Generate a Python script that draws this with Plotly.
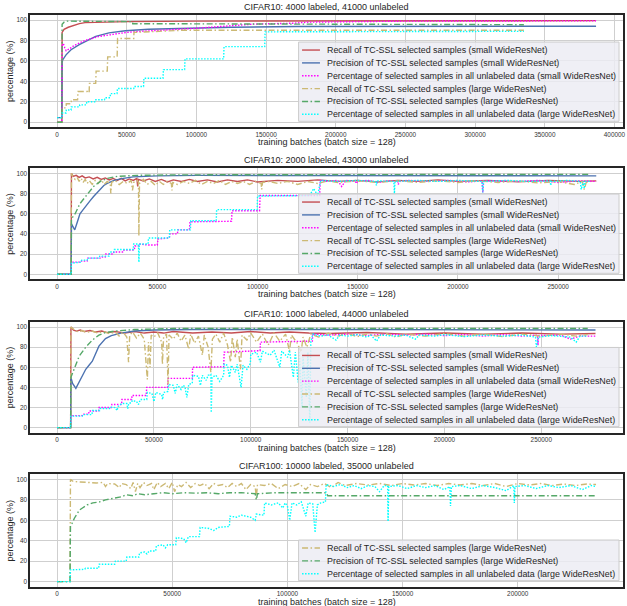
import plotly.graph_objects as go

W, H = 627, 606

TITLES = [
    "CIFAR10: 4000 labeled, 41000 unlabeled",
    "CIFAR10: 2000 labeled, 43000 unlabeled",
    "CIFAR10: 1000 labeled, 44000 unlabeled",
    "CIFAR100: 10000 labeled, 35000 unlabeled",
]
X_LABEL = "training batches (batch size = 128)"
Y_LABEL = "percentage (%)"
LEGEND_LABELS = [
    "Recall of TC-SSL selected samples (small WideResNet)",
    "Precision of TC-SSL selected samples (small WideResNet)",
    "Percentage of selected samples in all unlabeled data (small WideResNet)",
    "Recall of TC-SSL selected samples (large WideResNet)",
    "Precision of TC-SSL selected samples (large WideResNet)",
    "Percentage of selected samples in all unlabeled data (large WideResNet)",
]
X_TICKS = [
    [0, 50000, 100000, 150000, 200000, 250000, 300000, 350000, 400000],
    [0, 50000, 100000, 150000, 200000, 250000],
    [0, 50000, 100000, 150000, 200000, 250000],
    [0, 50000, 100000, 150000, 200000],
]
Y_TICKS = [0, 20, 40, 60, 80, 100]

# ---------------- Panel 1: CIFAR10 4000 labeled ----------------
P1_REC_S = [[0,0],[3400,0],[3600,88],[5000,91],[8000,93],[12000,95],[16000,96.5],[20000,97.5],[30000,98],[50000,98.5],[100000,99],[200000,99.3],[386800,99.5]]
P1_PRE_S = [[0,4.5],[3400,4.5],[3600,58],[4000,61],[6400,66],[10000,71],[15900,76],[20600,79],[27700,84],[37200,87.5],[49000,89.5],[65600,91],[89000,92],[125000,93],[172000,93.8],[250000,94],[386800,94]]
P1_PCT_S = [[0,0],[3400,0],[3600,75],[4500,77],[5500,73],[6500,70],[9000,72],[12000,75],[15000,77],[20000,80],[25000,82],[30000,84],[40000,86],[50000,88],[60000,89],[75000,90],[100000,92],[120000,94],[140000,96],[170000,97],[180000,98],[250000,99],[386800,99.3]]
P1_REC_L = [[0,0],[3400,0],[3600,14],[6400,14],[6600,18],[10000,18],[10300,22],[14700,22],[15000,30],[21800,30],[22000,29],[23000,29],[23200,38],[27700,38],[28000,50],[36000,50],[36300,64],[43100,64],[43400,82],[55000,82],[55200,88],[70000,89],[90000,90],[335000,90]]
P1_PRE_L = [[0,0],[3400,0],[3600,96],[5000,98],[7000,99],[20000,98.8],[54000,98.5],[54300,96.5],[100000,96.5],[200000,96],[335000,95.5]]
P1_PCT_L = [[0,4.5],[3400,4.5],[3600,9],[6400,9],[6600,12],[10000,12],[10200,15],[16000,15],[16300,17],[21000,17],[21300,20],[27000,20],[27300,22],[34000,22],[34300,24],[38000,24],[38300,28],[43000,28],[43300,33],[55000,33],[55300,35],[62000,35],[62300,43],[76000,43],[76300,51.5],[91500,51.5],[91800,62],[119500,62],[119800,74],[149000,74],[149300,88.5],[335000,89]]

# ---------------- Panel 2: CIFAR10 2000 labeled ----------------
P2_REC_S = [[0,0],[7000,0],[7150,100],[8000,97],[9500,98],[11000,96],[12500,97.5],[14000,95.5],[16000,96.5],[18000,94.5],[20000,96],[22000,94],[24000,95.5],[26000,93.5],[28000,95],[30000,93],[32000,95],[34000,92.5],[36000,94.5],[38000,93],[39800,95],[40200,87],[40600,94],[43000,92.5],[46000,94.5],[49000,92],[52000,94],[55000,91.5],[58000,93.5],[62000,92],[66000,94],[70000,92],[75000,93.5],[80000,91.5],[85000,93.5],[90000,92],[95000,93.5],[100000,91.5],[110000,93],[120000,92],[130000,93.5],[140000,92],[150000,93],[160000,91.5],[170000,93],[180000,92],[190000,93.5],[200000,92],[215000,93],[230000,91.5],[245000,93],[260000,92],[269000,92.5]]
P2_PRE_S = [[0,0],[7000,0],[7150,50],[8000,46],[8800,44],[9800,50],[11400,60],[13000,64],[14800,69],[16500,73],[18200,77],[20000,81],[21600,85],[23300,88],[25000,90],[28400,93],[33000,95],[38000,96.5],[50000,97.5],[70000,98],[269000,97.5]]
P2_PCT_S = [[0,0],[7000,0],[7150,12],[11000,12],[11300,13],[15000,13],[15300,16],[22000,16],[22300,17],[24000,17],[24300,20],[28000,20],[28300,22],[33000,22],[33300,24],[38500,24],[38800,28],[40500,28],[40800,30],[45000,29],[50000,29],[50300,35],[56000,36],[56300,40],[60000,40],[60300,44],[66000,44],[66300,52],[87000,52.5],[87300,63],[101000,63],[101300,78],[131000,78],[131300,93],[135000,92],[140000,93],[142000,87],[144000,93],[148800,92],[149200,90],[150000,92],[155000,93],[160000,91],[165000,92.5],[170000,92],[170200,89],[171000,92],[175000,93],[185000,92],[195000,93],[205000,91.5],[212000,92.5],[212400,81],[212800,92.5],[230000,92],[240000,93],[250000,91],[260000,92.5],[269000,92]]
P2_REC_L = [[0,0],[7000,0],[7150,100],[8000,96],[9000,94],[10000,96],[11000,92],[12000,95],[13000,91],[14000,94],[15000,90],[16000,93],[17500,89],[19000,93],[20500,90],[22000,94],[23500,89],[25000,92],[26500,90],[26800,80],[27200,91],[29000,93],[31000,89],[33000,92],[35000,90],[37000,93],[37600,83],[38200,91],[40000,93],[40600,91],[40800,38],[41100,90],[43000,94],[45000,89],[47000,92],[49000,88],[51000,92],[53000,89],[55000,92],[57000,90],[57300,83],[57700,91],[60000,89],[63000,92],[66000,90],[69000,93],[72000,89],[75000,92],[78000,90],[81000,93],[84000,89],[87000,92],[90000,90],[93000,92],[96000,89],[99000,92],[101800,90],[102100,84],[102500,91],[106000,92],[110000,90],[115000,92],[120000,89],[125000,92],[130000,90],[135000,92.5],[140000,91],[150000,92.5],[160000,91],[170000,92.5],[180000,91],[190000,92.5],[200000,91],[210000,92.5],[220000,91],[230000,92.5],[240000,90.5],[250000,92],[258000,89],[262000,92],[263000,84],[264000,91],[266000,92]]
P2_PRE_L = [[0,0],[7000,0],[7150,55],[9000,60],[11400,70],[14800,79],[18200,87],[21600,92],[25000,95],[30000,97],[40000,98],[60000,98.5],[266000,99]]
P2_PCT_L = [[0,0],[7000,0],[7150,11],[12000,12],[12300,14],[15000,14],[15300,16],[21000,16],[21300,18],[26000,18],[26300,22],[28400,22],[28600,24.5],[38000,24.5],[38200,30],[40600,30],[40800,12],[41000,30],[45400,30],[45600,36],[56000,36],[56200,44],[66500,44],[66700,53],[79400,53],[79600,64],[99800,64],[100000,77.5],[126000,78],[128000,85],[130000,78],[131500,93],[140000,92],[150000,93],[159000,92],[159300,88],[159600,92.5],[168000,92],[168300,80],[168600,92],[180000,93],[190000,92],[200000,93],[212000,92],[212400,81],[212800,92],[225000,93],[235000,92],[246000,92.5],[246300,88],[246600,92],[255000,93],[261000,92],[261500,84],[262500,92],[263000,85],[263500,92],[266000,92]]

# ---------------- Panel 3: CIFAR10 1000 labeled ----------------
P3_REC_S = [[0,0],[7000,0],[7150,100],[8500,97],[10000,96],[12000,97],[14000,95.5],[17000,96.5],[20000,95],[23000,96],[26000,94.5],[30000,95.5],[35000,94],[40000,95.5],[45000,94],[50000,95],[55000,94],[60000,95.5],[70000,94],[80000,95],[90000,94],[100000,95.5],[110000,94],[120000,95],[130000,94],[140000,93.5],[160000,94.5],[180000,93],[200000,94],[220000,93],[240000,94],[260000,93],[278000,93.5]]
P3_PRE_S = [[0,0],[7000,0],[7150,50],[8000,44],[9700,39],[11000,44],[12500,49],[14800,58],[16500,62],[18200,66],[20000,74],[21600,81],[25000,88.5],[28000,91.5],[33000,94],[40000,96],[50000,97],[70000,97.5],[150000,97.5],[278000,97]]
P3_PCT_S = [[0,0],[7000,0],[7150,12],[13000,12],[13300,13.5],[16300,13.5],[16500,16.5],[21500,16.5],[21700,20],[28000,20],[28300,23],[33300,23],[33500,28],[38500,28],[38700,32],[46000,32],[46300,40],[57000,40],[57300,49],[69800,49],[70000,60],[86000,60.5],[86300,75],[99800,76],[104800,76.5],[105000,85],[131800,86],[132000,93],[140000,92],[150000,93],[160000,91.5],[170000,93],[180000,92],[190000,93],[200000,91.5],[210000,92.5],[220000,91],[230000,92.5],[240000,91],[248000,92],[248300,82],[248600,91.5],[260000,92],[265000,88],[270000,91],[278000,91]]
P3_REC_L = [[0,0],[7000,0],[7150,100],[9000,97],[11000,95],[13000,96.5],[15000,94.5],[18000,96],[21000,94],[24000,95.5],[27000,93.5],[30000,95],[32000,91],[34000,95],[36000,90],[36900,65],[37500,92],[39000,95],[41000,89],[43000,94],[45000,88],[46600,48],[47200,85],[48000,60],[48600,92],[50000,90],[52000,94],[54000,85],[54400,63],[55000,90],[56500,93],[57300,43],[57800,92],[60000,88],[62000,94],[64000,86],[66000,92],[68000,78],[69000,93],[71000,84],[73000,91],[75000,72],[76000,92],[78000,80],[79400,55],[80200,88],[82000,93],[84000,85],[86000,94],[88000,82],[89600,65],[90500,90],[92000,70],[93000,88],[94700,58],[95500,92],[98000,87],[100000,94],[103000,85],[106000,93],[109000,82],[112000,94],[115000,86],[118000,93],[120000,76],[121000,92],[124000,84],[126000,75],[127000,90],[129000,80],[131000,93],[135000,90],[140000,94],[145000,91],[150000,93.5],[155000,90.5],[160000,93],[165000,91],[170000,93.5],[175000,90],[180000,93],[190000,91],[200000,93.5],[210000,91],[220000,93],[230000,90.5],[240000,93],[250000,91],[260000,93],[268000,91],[274000,92.5]]
P3_PRE_L = [[0,0],[7000,0],[7150,50],[9000,60],[11400,71],[14800,80],[18200,87],[21600,92],[25000,94.5],[30000,96],[40000,97.5],[60000,98.5],[274000,98.5]]
P3_PCT_L = [[0,0],[7000,0],[7150,11.5],[13000,11.5],[13300,13],[18000,13],[18300,17],[22000,17],[22300,19],[27000,19],[27300,20.5],[30000,20],[31000,17],[31500,21],[33500,24],[36000,24],[36500,19],[37000,24],[38500,25],[38800,27],[41000,26],[42000,23],[43000,28],[46300,28],[46600,35],[49000,34],[50000,26],[51000,35],[54000,33],[54500,28],[55000,35],[57300,36],[57600,43],[60000,42],[61000,34],[62000,43],[64000,38],[65000,42],[66000,41],[67000,30],[68000,43],[69800,44],[70000,52],[73000,51],[74000,42],[75000,52],[77000,47],[78000,52],[79400,53],[79600,15],[80000,50],[82000,52],[84000,46],[86000,52],[86300,63],[88000,62],[89000,50],[90000,62],[92000,55],[93000,63],[95000,40],[96000,62],[98000,58],[99800,64],[100000,73],[103000,75],[105000,65],[106000,76],[110000,72],[112000,77],[115000,60],[116000,76],[119000,70],[120000,77],[122000,50],[123000,75],[124500,45],[125000,76],[126500,20],[127000,70],[128700,30],[129500,75],[130500,5],[131000,85],[132000,93],[136000,91],[140000,92],[144000,87],[146000,92],[150000,91],[155000,92.5],[160000,90],[162000,92],[165000,86],[167000,92],[175000,91],[180000,92],[185000,88],[187000,92],[195000,91],[200000,92.5],[210000,90.5],[220000,92],[230000,91],[240000,92],[247000,90],[247500,80],[248500,90],[255000,91.5],[265000,90],[268000,85],[270000,91],[274000,91]]

# ---------------- Panel 4: CIFAR100 10000 labeled ----------------
P4_REC_L = [[0,0],[5600,0],[5800,100],[7000,98],[10000,97.5],[14000,97],[17000,96.5],[20000,97],[21000,93],[22000,96],[25000,95.5],[27000,92],[28000,96],[30000,95],[32000,91],[33000,97],[34000,88],[35000,96],[36000,92],[37500,97],[39000,94],[41000,96],[42000,90],[43500,97],[45000,93],[47000,96],[48500,91],[50000,97],[51000,88],[52500,95],[54000,93],[56000,97],[58000,92],[60000,96],[62000,94],[64000,96],[66000,91],[68000,96],[70000,94],[72000,95],[74000,92],[76000,96],[78000,93],[80000,96],[82000,90],[84000,95],[86000,93],[86500,82],[87000,95],[90000,94],[93000,96],[96000,91],[99000,95],[102000,93],[105000,96],[108000,90],[110000,95],[113000,93],[116000,96],[119000,92],[122000,97],[125000,94],[130000,96],[135000,94.5],[140000,96],[145000,94],[150000,96],[155000,94.5],[160000,96],[165000,94],[170000,96],[175000,94.5],[180000,96],[185000,94],[190000,96],[195000,93],[200000,96],[205000,94.5],[210000,96],[215000,94],[220000,95.5],[225000,94],[230000,95.5],[234000,95]]
P4_PRE_L = [[0,0],[5600,0],[5800,55],[6500,57],[7500,62],[8500,66],[9700,70],[11000,72],[13000,75],[15500,77],[18400,78],[21000,80],[23000,81],[25000,82],[28000,83],[30000,85],[33000,84],[35000,86],[38000,85],[42000,86],[46000,87],[50000,86],[55000,87],[60000,86.5],[65000,87],[70000,86],[75000,87],[80000,87],[86000,86],[86500,80],[87000,86],[95000,87],[105000,87],[112000,86.5],[117000,87],[117500,84],[130000,84],[150000,84],[170000,84],[200000,84],[234000,84]]
P4_PCT_L = [[0,0],[5600,0],[5800,11.5],[12000,12],[12300,13],[18000,13],[18300,17],[25000,17],[25300,20],[30000,20],[30300,24],[35500,24],[35800,28],[38000,29],[39000,27],[40000,30],[42800,30],[43100,35],[46000,36],[47000,33],[48000,36],[51500,36],[51800,43],[55000,42],[56000,38],[57000,44],[61800,44],[62100,53],[66000,52],[68000,50],[70000,53],[74800,54],[75100,64],[78000,63],[80000,65],[84000,63],[86000,60],[86500,66],[89800,65],[90100,77],[93000,75],[96000,77],[98000,72],[99000,77],[100000,74],[101000,60],[102000,77],[104000,75],[106000,78],[108000,64],[109000,77],[111000,76],[112000,48],[113000,75],[114500,77],[116500,78],[116800,95],[120000,93],[123000,95],[126000,92],[129000,94],[132000,91],[135000,94],[138000,93],[140000,88],[142000,94],[143500,94],[143700,59],[144000,93],[148000,94],[152000,91],[156000,94],[160000,92],[164000,94],[168000,90],[170500,93],[170800,74],[171200,93],[175000,94],[180000,91],[185000,94],[190000,92],[195000,89],[198300,94],[198500,77],[198800,93],[203000,94],[208000,91],[213000,94],[218000,92],[223000,94],[228000,90],[232000,94],[234000,93]]

# ---------------- styling ----------------
STYLES = [
    dict(color="#C44E52", dash="solid"),
    dict(color="#4C72B0", dash="solid"),
    dict(color="#FF00FF", dash="1.5px,1.5px"),
    dict(color="#CCB974", dash="6px,2.5px,1.5px,2.5px"),
    dict(color="#55A868", dash="6px,2.5px,1.5px,2.5px"),
    dict(color="#00FFFF", dash="1.5px,1.5px"),
]

PANELS = [
    dict(series=[P1_REC_S, P1_PRE_S, P1_PCT_S, P1_REC_L, P1_PRE_L, P1_PCT_L], idx=[0,1,2,3,4,5],
         xr=[-19340, 406140], top=15, bottom=127.3),
    dict(series=[P2_REC_S, P2_PRE_S, P2_PCT_S, P2_REC_L, P2_PRE_L, P2_PCT_L], idx=[0,1,2,3,4,5],
         xr=[-13450, 282350], top=168.3, bottom=279.3),
    dict(series=[P3_REC_S, P3_PRE_S, P3_PCT_S, P3_REC_L, P3_PRE_L, P3_PCT_L], idx=[0,1,2,3,4,5],
         xr=[-13900, 292200], top=322, bottom=432.7),
    dict(series=[P4_REC_L, P4_PRE_L, P4_PCT_L], idx=[3,4,5],
         xr=[-11700, 245700], top=474.3, bottom=586.7),
]
LEFT, RIGHT = 30.3, 626.0

def fx(px):
    return px / W

def fy(py):
    return 1 - py / H

FONT = "Liberation Sans, Arial, sans-serif"
fig = go.Figure()
shapes, annotations = [], []
layout = dict(width=W, height=H, margin=dict(l=0, r=0, t=0, b=0),
              paper_bgcolor="white", plot_bgcolor="white", showlegend=False,
              font=dict(family=FONT, color="#262626"))

for i, p in enumerate(PANELS):
    n = i + 1
    xa = "x" if n == 1 else f"x{n}"
    ya = "y" if n == 1 else f"y{n}"
    for s, k in zip(p["series"], p["idx"]):
        st = STYLES[k]
        fig.add_trace(go.Scatter(
            x=[pt[0] for pt in s], y=[pt[1] for pt in s], mode="lines",
            line=dict(color=st["color"], width=1.4, dash=st["dash"]),
            xaxis=xa, yaxis=ya, name=LEGEND_LABELS[k], hoverinfo="skip"))
    axis_common = dict(showline=True, mirror=True, linecolor="#262626", linewidth=1.5,
                       showgrid=True, gridcolor="#cfcfcf", gridwidth=1, zeroline=False,
                       ticks="", ticklabeloverflow="allow",
                       tickfont=dict(size=6.4, color="#333333", family=FONT))
    layout["xaxis" if n == 1 else f"xaxis{n}"] = dict(
        axis_common, domain=[fx(LEFT), fx(RIGHT)], range=p["xr"], anchor=ya,
        tickvals=X_TICKS[i], ticktext=[str(v) for v in X_TICKS[i]])
    layout["yaxis" if n == 1 else f"yaxis{n}"] = dict(
        axis_common, domain=[fy(p["bottom"]), fy(p["top"])], range=[-5, 105], anchor=xa,
        tickvals=Y_TICKS)

    # titles
    annotations.append(dict(text=TITLES[i], x=fx((LEFT + RIGHT) / 2), y=fy(p["top"] - 1.5),
                            xref="paper", yref="paper", xanchor="center", yanchor="bottom",
                            showarrow=False, font=dict(size=9, color="#262626")))
    annotations.append(dict(text=X_LABEL, x=fx((LEFT + RIGHT) / 2), y=fy(p["bottom"] + 14.8),
                            xref="paper", yref="paper", xanchor="center", yanchor="middle",
                            showarrow=False, font=dict(size=9, color="#262626")))
    annotations.append(dict(text=Y_LABEL, x=fx(10), y=fy((p["top"] + p["bottom"]) / 2),
                            xref="paper", yref="paper", xanchor="center", yanchor="middle",
                            textangle=-90, showarrow=False, font=dict(size=9, color="#262626")))

    # legend (manual)
    nrow = len(p["idx"])
    lb = p["bottom"] - 6
    lt = lb - (15 + 12.85 * (nrow - 1))
    shapes.append(dict(type="rect", xref="paper", yref="paper", layer="above",
                       x0=fx(300), x1=fx(622), y0=fy(lb), y1=fy(lt),
                       fillcolor="rgba(236,236,243,0.82)", line=dict(color="#cccccc", width=1)))
    for r, k in enumerate(p["idx"]):
        cy = lt + 8 + 12.85 * r
        st = STYLES[k]
        shapes.append(dict(type="line", xref="paper", yref="paper", layer="above",
                           x0=fx(303.5), x1=fx(321.5), y0=fy(cy), y1=fy(cy),
                           line=dict(color=st["color"], width=1.4, dash=st["dash"])))
        annotations.append(dict(text=LEGEND_LABELS[k], x=fx(327), y=fy(cy),
                                xref="paper", yref="paper", xanchor="left", yanchor="middle",
                                showarrow=False, font=dict(size=8.9, color="#262626")))

layout["shapes"] = shapes
layout["annotations"] = annotations
fig.update_layout(**layout)
fig.write_html("out.html", config={"displayModeBar": False},
               post_script="document.body.style.margin='0px';document.body.style.overflow='hidden';")
